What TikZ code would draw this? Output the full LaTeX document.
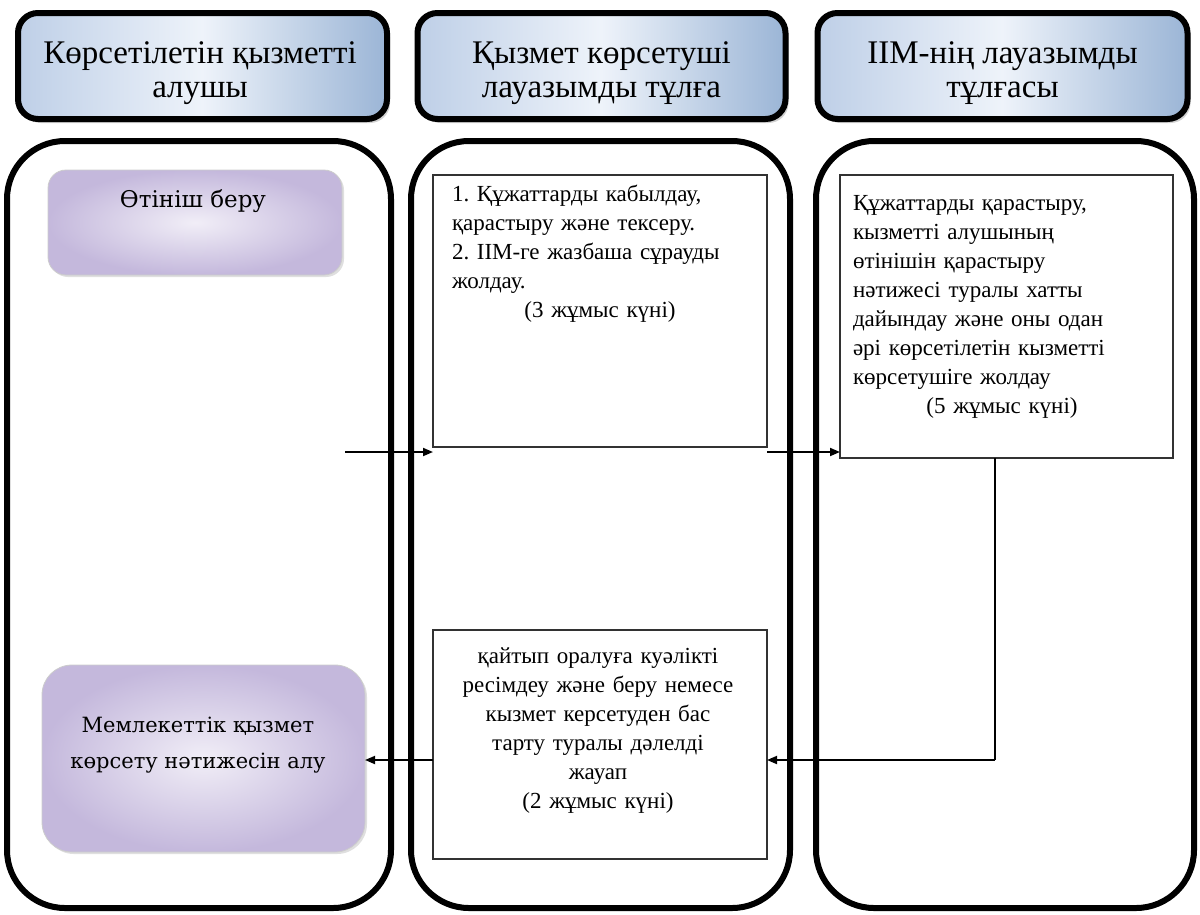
\documentclass[tikz,border=0pt]{standalone}
\usepackage{fontspec}
\setmainfont{Liberation Serif}
\newfontfamily\altserif{DejaVu Serif}
\usetikzlibrary{arrows.meta,shadows}
\definecolor{hdl}{RGB}{190,207,231}
\definecolor{hdm}{RGB}{238,243,250}
\definecolor{hdr}{RGB}{155,181,214}
\definecolor{lvin}{RGB}{241,238,247}
\definecolor{lvout}{RGB}{196,184,220}
\definecolor{boxline}{RGB}{50,50,50}
\begin{document}
\frenchspacing
\begin{tikzpicture}[x=1pt,y=-1pt,
  every node/.style={inner sep=0pt,outer sep=0pt},
  lane/.style={draw=black,line width=6pt,rounded corners=58pt,rectangle},
  header/.style={draw=black,line width=6pt,rounded corners=20pt,rectangle,
    left color=hdl,right color=hdr,middle color=hdm,
    drop shadow={shadow xshift=3pt,shadow yshift=-4pt,opacity=0.35}},
  hdtext/.style={align=center,font=\fontsize{33}{34}\selectfont,anchor=north},
  lavender/.style={rectangle,draw=black!20,line width=0.8pt,inner color=lvin,outer color=lvout,
    drop shadow={shadow xshift=2pt,shadow yshift=-2pt,opacity=0.25}},
  stepbox/.style={rectangle,draw=boxline,line width=1.8pt,fill=white},
  boxtext/.style={font=\fontsize{23}{29}\selectfont},
  lavtext/.style={font=\altserif\fontsize{21}{36}\selectfont,align=center,anchor=north},
  arr/.style={line width=1.8pt,-{Triangle[length=10pt,width=8pt]}},
  conn/.style={line width=1.8pt}
]
\useasboundingbox (0,0) rectangle (1200,914);
\fill[white] (0,0) rectangle (1200,914);

% lanes
\node[lane,minimum width=384pt,minimum height=767pt] (lane1) at (199,524.5) {};
\node[lane,minimum width=379pt,minimum height=767pt] (lane2) at (600.5,524.5) {};
\node[lane,minimum width=378pt,minimum height=767pt] (lane3) at (1005,524.5) {};

% headers
\node[header,minimum width=369pt,minimum height=106pt] (h1) at (202.5,66) {};
\node[header,minimum width=368pt,minimum height=106pt] (h2) at (601.5,66) {};
\node[header,minimum width=370pt,minimum height=106pt] (h3) at (1002.5,66) {};
\node[hdtext] (h1t) at (200,39.2) {\strut Көрсетілетін қызметті\\алушы};
\node[hdtext] (h2t) at (601.5,39.2) {\strut Қызмет көрсетуші\\лауазымды тұлға};
\node[hdtext] (h3t) at (1002.5,39.2) {\strut ІІМ-нің лауазымды\\тұлғасы};

% lane 1 nodes
\node[lavender,rounded corners=18pt,minimum width=294pt,minimum height=105pt] (apply) at (195,222.5) {};
\node[lavtext,font=\altserif\fontsize{23}{27}\selectfont] (applyt) at (193,189) {\strut Өтініш беру};
\node[lavender,rounded corners=30pt,minimum width=323pt,minimum height=187pt] (res) at (203.5,758.5) {};
\node[lavtext] (rest) at (198,706.8) {\strut Мемлекеттік қызмет\\көрсету нәтижесін алу};

% lane 2 nodes
\node[stepbox,minimum width=334pt,minimum height=272pt] (box1) at (600,311) {};
\node[boxtext,text width=296pt,align=left,anchor=north west] (box1t) at (452,180.7)
  {\strut\mbox{1. Құжаттарды кабылдау,}\\
   \mbox{қарастыру және тексеру.}\\
   \mbox{2. ІІМ-ге жазбаша сұрауды}\\
   \mbox{жолдау.}\par\centering (3 жұмыс күні)\par};
\node[stepbox,minimum width=334pt,minimum height=229pt] (box3) at (600,744.5) {};
\node[boxtext,text width=330pt,align=center,anchor=north] (box3t) at (598,642.7)
  {\strut қайтып оралуға куәлікті\\
   ресімдеу және беру немесе\\
   кызмет керсетуден бас\\
   тарту туралы дәлелді\\
   жауап\\
   (2 жұмыс күні)};

% lane 3 node
\node[stepbox,minimum width=333pt,minimum height=283pt] (box2) at (1006.5,316.5) {};
\node[boxtext,text width=298pt,align=left,anchor=north west] (box2t) at (853,189.7)
  {\strut\mbox{Құжаттарды қарастыру,}\\
   \mbox{кызметті алушының}\\
   \mbox{өтінішін қарастыру}\\
   \mbox{нәтижесі туралы хатты}\\
   \mbox{дайындау және оны одан}\\
   \mbox{әрі көрсетілетін кызметті}\\
   \mbox{көрсетушіге жолдау}\par\centering (5 жұмыс күні)\par};

% connectors
\coordinate (s1) at (345,452);
\draw[arr] (s1) -- (s1 -| box1.west);
\coordinate (s2) at ([yshift=-5pt]box1.south east);
\draw[arr] (s2) -- (s2 -| box2.west);
\coordinate (c3) at (995,760);
\draw[conn] (box2.south -| c3) -- (c3);
\draw[arr] (c3) -- (c3 -| box3.east);
\coordinate (s4) at (box3.west |- c3);
\draw[arr] (s4) -- (s4 -| res.east);
\end{tikzpicture}
\end{document}
